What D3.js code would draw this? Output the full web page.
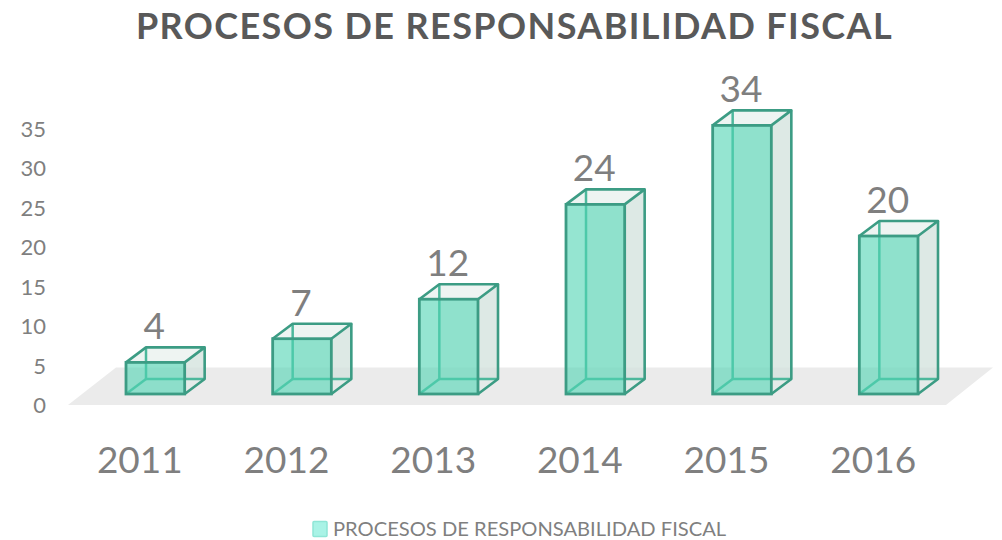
<!DOCTYPE html>
<html><head><meta charset="utf-8">
<script src="https://cdnjs.cloudflare.com/ajax/libs/d3/7.8.5/d3.min.js"></script>
<style>html,body{margin:0;padding:0;background:#fff}svg{display:block}text{font-family:Lato,sans-serif}</style>
</head><body><svg id="c" width="1002" height="540"></svg>
<script>
const categories=["2011","2012","2013","2014","2015","2016"];
const values=[4,7,12,24,34,20];
const yTicks=[0,5,10,15,20,25,30,35];
const chartTitle="PROCESOS DE RESPONSABILIDAD FISCAL";
const seriesName="PROCESOS DE RESPONSABILIDAD FISCAL";

const svg=d3.select("#c");
const dx=20,dy=-15,lift=11,shift=14;
const x=d3.scaleBand().domain(categories).range([68,948]).paddingInner(0.6).paddingOuter(0.3);
const y=d3.scaleLinear().domain([0,35]).range([405,128.5]);
const base=y(0)-lift;
const grey="#7f7f7f";

svg.append("text").attr("x",514.5).attr("y",39).attr("text-anchor","middle")
  .attr("font-size",36).attr("font-weight",700).attr("fill","#595959").attr("letter-spacing",1.4).text(chartTitle);

svg.append("path").attr("fill","#ebebeb")
  .attr("d",d3.line()([[68,405],[946,405],[993,367.5],[116,367.5]])+"Z");

const ax=svg.append("g").attr("transform","translate(46,0)")
  .call(d3.axisLeft(y).tickValues(yTicks).tickSize(0).tickPadding(0));
ax.select(".domain").remove();
ax.selectAll("text").attr("font-size",22).attr("fill",grey).attr("dy","0.35em");

const cx=svg.append("g").attr("transform","translate(-1.5,460)")
  .call(d3.axisBottom(x).tickSize(0).tickPadding(0));
cx.select(".domain").remove();
cx.selectAll("text").attr("font-size",37).attr("fill",grey).attr("y",0).attr("dy","0.35em");

const line=d3.line();
const bars=svg.append("g").attr("transform",`translate(${shift},0)`).selectAll("g").data(categories.map((c,i)=>({c,v:values[i]}))).join("g");
const edge="#3c9c84", inner="#4cb89c";
bars.each(function(d){
  const g=d3.select(this);
  const l=x(d.c), r=l+x.bandwidth(), t=y(d.v)-lift, b=base;
  const face=(pts,fill)=>g.append("path").attr("d",line(pts)+"Z").attr("fill",fill).attr("stroke","none");
  const seg=(pts,col,w)=>g.append("path").attr("d",line(pts)).attr("fill","none").attr("stroke",col).attr("stroke-width",w).attr("stroke-linejoin","round");
  face([[l+dx,t+dy],[r+dx,t+dy],[r+dx,b+dy],[l+dx,b+dy]],"rgba(225,236,232,0.55)");
  face([[r,t],[r+dx,t+dy],[r+dx,b+dy],[r,b]],"rgba(205,222,218,0.55)");
  face([[l,t],[r,t],[r+dx,t+dy],[l+dx,t+dy]],"#eef4f2");
  face([[l,b],[r,b],[r+dx,b+dy],[l+dx,b+dy]],"rgba(235,240,238,0.6)");
  seg([[l+dx,t+dy],[l+dx,b+dy],[r+dx,b+dy]],inner,2.5);
  seg([[l,b],[l+dx,b+dy]],inner,2.5);
  face([[l,t],[r,t],[r,b],[l,b]],"rgba(78,211,178,0.6)");
  seg([[l,t],[l+dx,t+dy],[r+dx,t+dy],[r,t]],edge,2.6);
  seg([[r+dx,t+dy],[r+dx,b+dy],[r,b]],edge,2.6);
  g.append("rect").attr("x",l).attr("y",t).attr("width",x.bandwidth()).attr("height",b-t)
   .attr("fill","none").attr("stroke",edge).attr("stroke-width",2.8);
  g.append("text").attr("x",(l+r)/2-1).attr("y",t+dy-8).attr("text-anchor","middle")
   .attr("font-size",37).attr("fill",grey).text(d.v);
});

svg.append("rect").attr("x",313).attr("y",521.5).attr("width",14).attr("height",15).attr("rx",1)
  .attr("fill","#a9f3e6").attr("stroke","#8fe6d6").attr("stroke-width",1.5);
svg.append("text").attr("x",333).attr("y",536).attr("font-size",20.15).attr("fill",grey).text(seriesName);
</script></body></html>
